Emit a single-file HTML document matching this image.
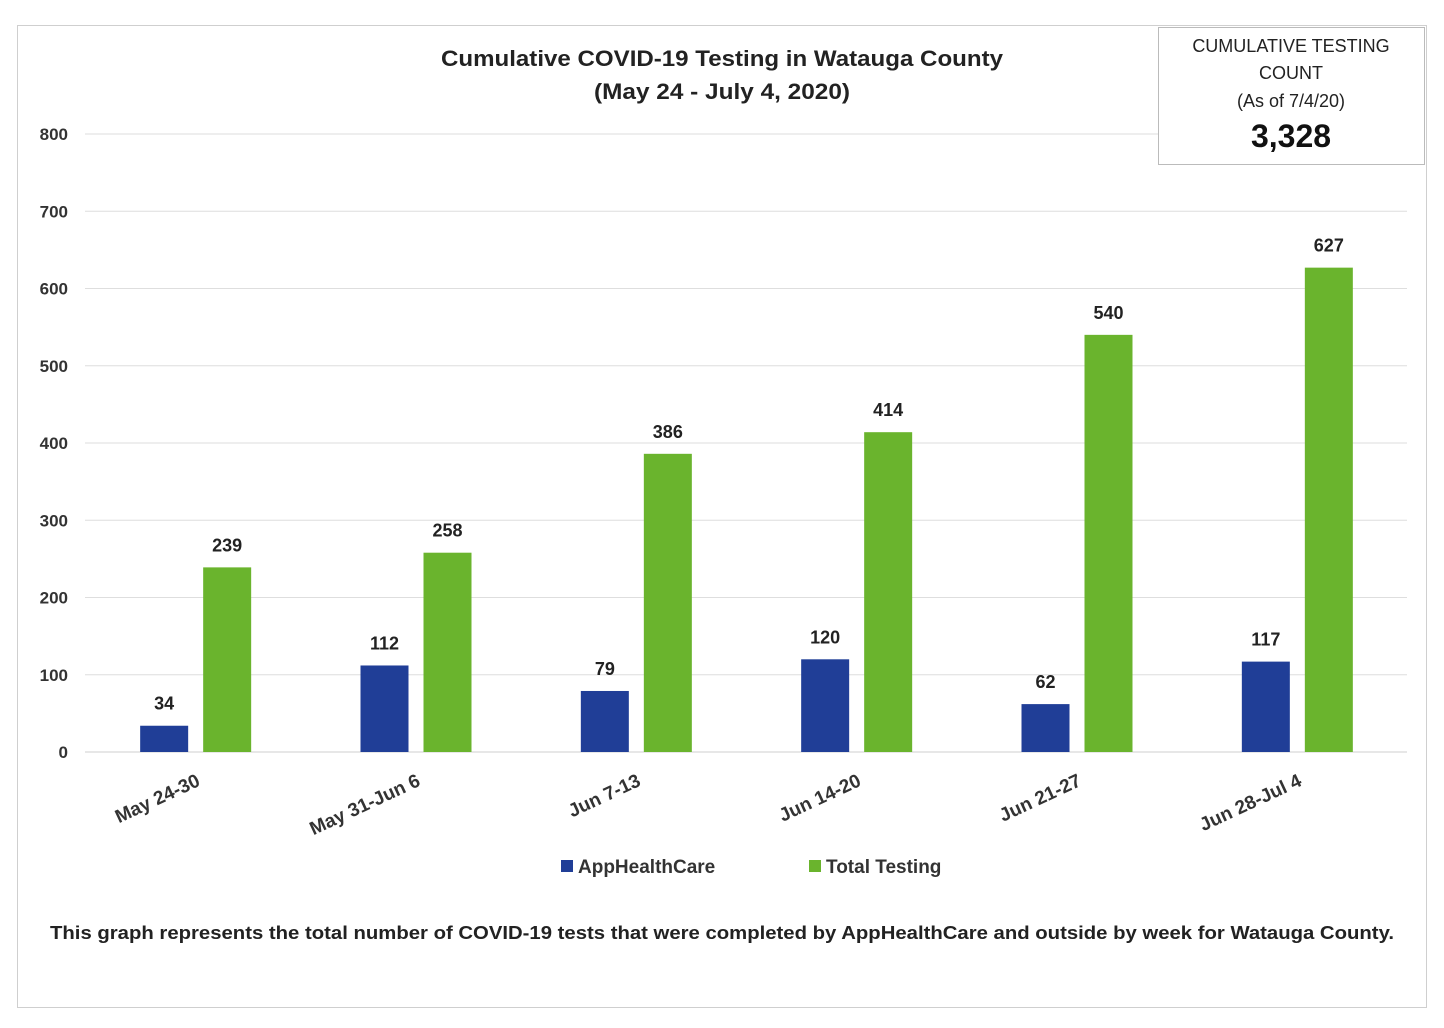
<!DOCTYPE html>
<html><head><meta charset="utf-8"><style>
html,body{margin:0;padding:0;background:#fff;}
svg{display:block;font-family:"Liberation Sans",sans-serif;}
</style></head><body>
<svg id="chart" width="1444" height="1028" viewBox="0 0 1444 1028">
<rect x="17.5" y="25.5" width="1409" height="982" fill="#fff" stroke="#cfcfcf"/>
<text x="722" y="66" text-anchor="middle" font-size="22" font-weight="bold" fill="#222" textLength="562" lengthAdjust="spacingAndGlyphs">Cumulative COVID-19 Testing in Watauga County</text>
<text x="722" y="99" text-anchor="middle" font-size="22" font-weight="bold" fill="#222" textLength="256" lengthAdjust="spacingAndGlyphs">(May 24 - July 4, 2020)</text>
<g id="grid"></g>
<g id="bars"></g>
<rect x="1158.5" y="27.5" width="266" height="137" fill="#fff" stroke="#bbb"/>
<text x="1291" y="52" text-anchor="middle" font-size="18" fill="#222">CUMULATIVE TESTING</text>
<text x="1291" y="79" text-anchor="middle" font-size="18" fill="#222">COUNT</text>
<text x="1291" y="107" text-anchor="middle" font-size="18" fill="#222">(As of 7/4/20)</text>
<text x="1291" y="147" text-anchor="middle" font-size="32" font-weight="bold" fill="#111">3,328</text>
<g>
<rect x="561" y="860" width="12" height="12" fill="#203E97"/>
<text x="578" y="873" font-size="19" font-weight="bold" fill="#333">AppHealthCare</text>
<rect x="809" y="860" width="12" height="12" fill="#6AB42D"/>
<text x="826" y="873" font-size="19" font-weight="bold" fill="#333">Total Testing</text>
</g>
<text x="722" y="939" text-anchor="middle" font-size="18.5" font-weight="bold" fill="#222" textLength="1344" lengthAdjust="spacingAndGlyphs">This graph represents the total number of COVID-19 tests that were completed by AppHealthCare and outside by week for Watauga County.</text>
</svg>
<script>
const categories = ["May 24-30","May 31-Jun 6","Jun 7-13","Jun 14-20","Jun 21-27","Jun 28-Jul 4"];
const appHealthCare = [34,112,79,120,62,117];
const totalTesting = [239,258,386,414,540,627];
const yTicks = [0,100,200,300,400,500,600,700,800];

const NS="http://www.w3.org/2000/svg";
const x0=85,x1=1407,yBase=752,yTop=134,yMax=800;
const y=v=>yBase-(v/yMax)*(yBase-yTop);
const bw=(x1-x0)/categories.length;
const cx=i=>x0+bw*(i+0.5);
function mk(tag,attrs,parent){const e=document.createElementNS(NS,tag);for(const k in attrs)e.setAttribute(k,attrs[k]);parent.appendChild(e);return e;}
const grid=document.getElementById('grid'),bars=document.getElementById('bars');
yTicks.forEach(t=>{
  const ln=mk('line',{x1:x0,x2:(t===800?1158:x1),y1:y(t),y2:y(t),stroke:t===0?'#cfcfcf':'#dedede','stroke-width':1},grid);
  
  
  const tx=mk('text',{x:68,y:y(t)+6,'text-anchor':'end','font-size':17,'font-weight':'bold',fill:'#333'},grid);
  tx.textContent=t;
  
  
});
categories.forEach((c,i)=>{
  const m=cx(i);
  const series=[[appHealthCare[i],'#203E97',m-55,'app'],[totalTesting[i],'#6AB42D',m+8,'total']];
  series.forEach(([v,col,bx,key])=>{
    const r=mk('rect',{x:bx,y:y(v),width:48,height:yBase-y(v),fill:col},bars);
    
    
    const l=mk('text',{x:bx+24,y:y(v)-16,'text-anchor':'middle','font-size':18,'font-weight':'bold',fill:'#222'},bars);
    l.textContent=v;
    
    
  });
  const xl=mk('text',{x:m+6,y:785,'text-anchor':'end','font-size':19,'font-weight':'bold',fill:'#333',transform:`rotate(-25 ${m+6} 785)`},bars);
  xl.textContent=c;
  
  
});
</script>
</body></html>
